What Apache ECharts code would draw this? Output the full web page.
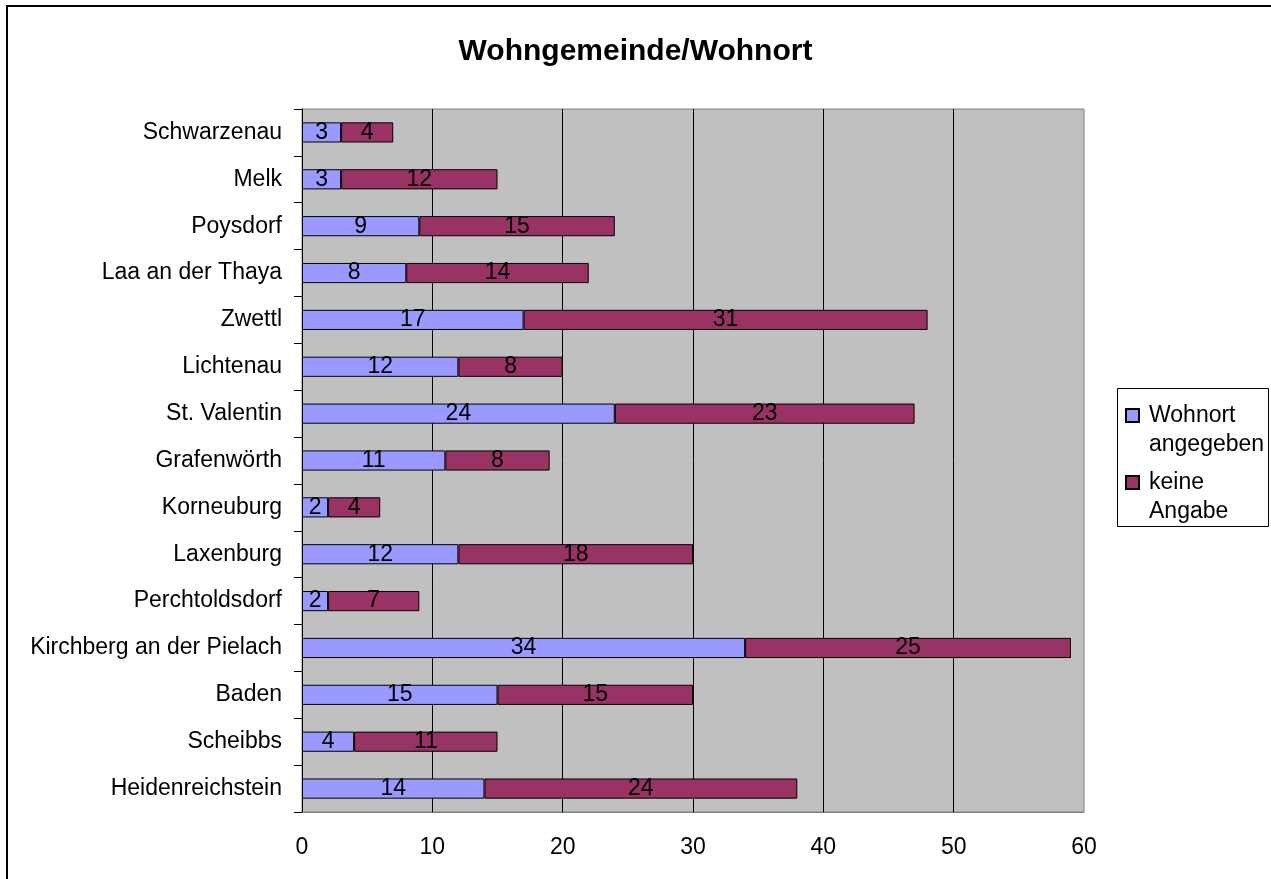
<!DOCTYPE html>
<html lang="de">
<head>
    <meta charset="UTF-8">
    <title>Wohngemeinde/Wohnort</title>
    <script src="https://cdn.jsdelivr.net/npm/echarts@6/dist/echarts.min.js"></script>
</head>
<body style="margin:0;background:#fff;">
    <div id="pic1" style="width:1271px;height:879px;"></div>
    <script>
        // Gemeinden (von oben nach unten)
        var orte = ['Schwarzenau', 'Melk', 'Poysdorf', 'Laa an der Thaya', 'Zwettl', 'Lichtenau',
            'St. Valentin', 'Grafenwörth', 'Korneuburg', 'Laxenburg', 'Perchtoldsdorf',
            'Kirchberg an der Pielach', 'Baden', 'Scheibbs', 'Heidenreichstein'];
        var wohnortAngegeben = [3, 3, 9, 8, 17, 12, 24, 11, 2, 12, 2, 34, 15, 4, 14];
        var keineAngabe = [4, 12, 15, 14, 31, 8, 23, 8, 4, 18, 7, 25, 15, 11, 24];
        var serienNamen = ['Wohnort angegeben', 'keine Angabe'];

        var schrift = 'Liberation Sans, Arial, sans-serif';
        var myChart = echarts.init(document.getElementById('pic1'));

        var labelStil = {
            show: true,
            position: 'inside',
            color: '#000',
            fontFamily: schrift,
            fontSize: 23
        };

        var option = {
            backgroundColor: '#fff',
            animation: false,
            title: {
                text: 'Wohngemeinde/Wohnort',
                left: 'center',
                top: 37,
                padding: 0,
                textStyle: { fontFamily: schrift, fontSize: 30, fontWeight: 'bold', color: '#000' }
            },
            graphic: [
                // Rahmen um das ganze Diagramm
                { type: 'rect', shape: { x: 7, y: 6, width: 1290, height: 900 },
                  style: { fill: 'none', stroke: '#000', lineWidth: 2 }, z: 10 },
                // Rahmen der Legende
                { type: 'rect', shape: { x: 1117.5, y: 388.5, width: 151, height: 138 },
                  style: { fill: '#fff', stroke: '#000', lineWidth: 1 }, z: 0 }
            ],
            legend: {
                orient: 'vertical',
                left: 1125,
                top: 372,
                padding: 0,
                itemGap: -20,
                itemWidth: 13,
                itemHeight: 13,
                icon: 'rect',
                z: 5,
                data: serienNamen,
                // leere erste Zeile, damit das Symbol neben der ersten Textzeile steht
                formatter: function (name) { return '\n' + name.replace(' ', '\n'); },
                textStyle: {
                    fontFamily: schrift, fontSize: 23, lineHeight: 29, color: '#000',
                    padding: [0, 0, 0, 5]
                }
            },
            grid: {
                left: 302, top: 109, width: 782, height: 703,
                show: true,
                backgroundColor: '#C0C0C0',
                borderColor: '#808080',
                borderWidth: 1
            },
            xAxis: {
                type: 'value',
                min: 0, max: 60, interval: 10,
                axisLine: { show: true, lineStyle: { color: '#808080' } },
                axisTick: { show: false },
                splitLine: { show: true, showMaxLine: false, lineStyle: { color: '#000', width: 1 } },
                axisLabel: { color: '#000', fontFamily: schrift, fontSize: 23, margin: 24 }
            },
            yAxis: {
                type: 'category',
                inverse: true,
                data: orte,
                axisLine: { show: true, lineStyle: { color: '#000' } },
                axisTick: { show: true, length: 8, lineStyle: { color: '#000' } },
                axisLabel: { color: '#000', fontFamily: schrift, fontSize: 23, margin: 20 }
            },
            series: [
                {
                    name: serienNamen[0], type: 'bar', stack: 'ort', barWidth: '43%',
                    data: wohnortAngegeben,
                    itemStyle: { color: '#9999FF', borderColor: '#000', borderWidth: 1 },
                    label: labelStil
                },
                {
                    name: serienNamen[1], type: 'bar', stack: 'ort', barWidth: '43%',
                    data: keineAngabe,
                    itemStyle: { color: '#993366', borderColor: '#000', borderWidth: 1 },
                    label: labelStil
                }
            ]
        };

        myChart.setOption(option);
    </script>
</body>
</html>
